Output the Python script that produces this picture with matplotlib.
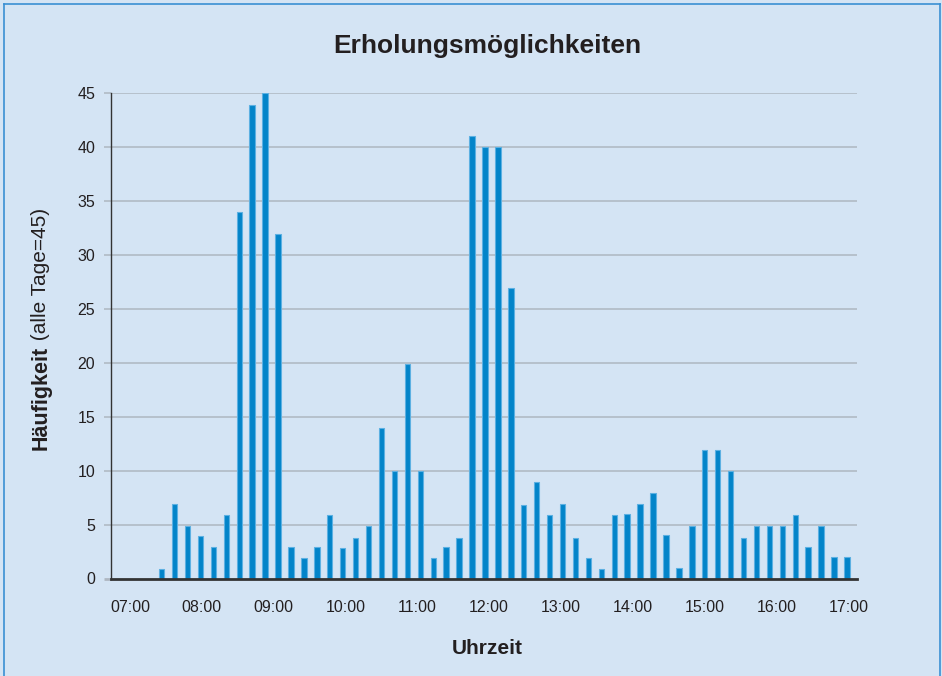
import matplotlib
matplotlib.use('Agg')
import matplotlib.pyplot as plt
import numpy as np
from matplotlib.lines import Line2D

# ---- data ----
values = [0.9, 6.9, 4.9, 3.95, 2.93, 5.9, 34.0, 43.9, 45.0, 31.9,
          2.9, 1.9, 2.96, 5.9, 2.84, 3.8, 4.9, 13.95, 9.94, 19.9,
          9.94, 1.9, 2.96, 3.8, 41.0, 40.0, 40.0, 26.9, 6.85, 8.95,
          5.9, 6.9, 3.8, 1.9, 0.9, 5.9, 6.0, 6.9, 7.9, 4.0,
          0.93, 4.9, 11.9, 11.9, 9.94, 3.8, 4.9, 4.9, 4.9, 5.9,
          2.96, 4.9, 1.98, 1.98]
hour_labels = ['07:00', '08:00', '09:00', '10:00', '11:00', '12:00',
               '13:00', '14:00', '15:00', '16:00', '17:00']
y_ticks = [0, 5, 10, 15, 20, 25, 30, 35, 40, 45]

title = 'Erholungsmöglichkeiten'
xlabel = 'Uhrzeit'
ylabel_bold = 'Häufigkeit'
ylabel_rest = ' (alle Tage=45)'

FONT = 'Liberation Sans'
plt.rcParams['font.family'] = [FONT, 'DejaVu Sans']

BG = '#d4e4f4'
BAR = '#0384c9'
BAR_EDGE = '#5cb0e2'
GRID = '#aeb7c1'
DARK = '#333333'
TXT = '#231f20'

W, H = 942, 676
fig = plt.figure(figsize=(W / 100, H / 100), dpi=100, facecolor=BG)

# axes placement (pixels -> fractions)
ax_l, ax_r, ax_b, ax_t = 111, 856.7, 578.5, 93
ax = fig.add_axes([ax_l / W, 1 - ax_b / H, (ax_r - ax_l) / W, (ax_b - ax_t) / H])
ax.set_facecolor('none')

x = np.arange(len(values))
ax.bar(x, values, width=0.42, color=BAR, edgecolor=BAR_EDGE, linewidth=0.8, zorder=3)

ax.set_xlim(-3.92, 53.75)
ax.set_ylim(0, 45)

# y axis
ax.set_yticks(y_ticks)
ax.set_yticklabels([str(v) for v in y_ticks], fontsize=11.5, color=TXT)
ax.tick_params(axis='y', length=5, width=1.1, color=GRID, pad=6.5)
ax.yaxis.grid(True, color=GRID, linewidth=1.1, zorder=0)
ax.set_axisbelow(True)
t0 = ax.yaxis.get_major_ticks()[0]
t0.tick1line.set_color(DARK)
t0.tick1line.set_markeredgewidth(2.0)
t0.gridline.set_visible(False)

# x axis tick labels (hour marks, evenly spaced)
step = 5.555
tick_pos = [-2.45 + i * step for i in range(len(hour_labels))]
ax.set_xticks(tick_pos)
ax.set_xticklabels(hour_labels, fontsize=11.5, color=TXT)
ax.tick_params(axis='x', length=0, pad=15.5)

for s in ['top', 'right']:
    ax.spines[s].set_visible(False)
ax.spines['left'].set_color(DARK)
ax.spines['left'].set_linewidth(1.0)
ax.spines['bottom'].set_color(DARK)
ax.spines['bottom'].set_linewidth(2.0)
ax.spines['bottom'].set_zorder(4)

# titles
fig.text(487 / W, 1 - 46 / H, title, ha='center', va='center',
         fontsize=19, fontweight='bold', color=TXT)
fig.text(487 / W, 1 - 648 / H, xlabel, ha='center', va='center',
         fontsize=15, fontweight='bold', color=TXT)

# y label with bold + regular parts
fig.canvas.draw()
r = fig.canvas.get_renderer()
xb = 46.5 / W
t1 = fig.text(xb, 0.5, ylabel_bold, rotation=90, rotation_mode='anchor',
              ha='left', va='baseline', fontsize=15.5, fontweight='bold', color=TXT)
t2 = fig.text(xb, 0.5, ylabel_rest, rotation=90, rotation_mode='anchor',
              ha='left', va='baseline', fontsize=15, color=TXT)
h1 = t1.get_window_extent(r).height
h2 = t2.get_window_extent(r).height
cy = H - 329
start = cy - (h1 + h2) / 2
t1.set_position((xb, start / H))
t2.set_position((xb, (start + h1) / H))

# frame border (left, top, right)
bc = '#3a8fd3'
fig.add_artist(Line2D([3.5 / W, 3.5 / W], [0, 1 - 3.5 / H], transform=fig.transFigure, color=bc, lw=1.2))
fig.add_artist(Line2D([3.5 / W, 1 - 2.5 / W], [1 - 3.5 / H, 1 - 3.5 / H], transform=fig.transFigure, color=bc, lw=1.2))
fig.add_artist(Line2D([1 - 2.5 / W, 1 - 2.5 / W], [0, 1 - 3.5 / H], transform=fig.transFigure, color=bc, lw=1.2))

fig.savefig('out.png', dpi=100, facecolor=BG)
